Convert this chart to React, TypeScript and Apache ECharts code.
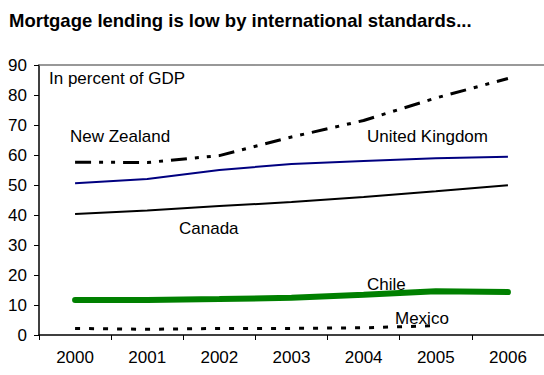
import React, { useEffect, useRef } from "react";
import * as echarts from "echarts";

const years = ["2000", "2001", "2002", "2003", "2004", "2005", "2006"];
const newZealand = [57.6, 57.5, 59.8, 66.0, 71.5, 79.0, 85.5];
const unitedKingdom = [50.6, 52.0, 55.0, 57.0, 58.0, 58.9, 59.4];
const canada = [40.3, 41.5, 43.0, 44.3, 46.0, 47.9, 49.9];
const chile = [11.7, 11.7, 12.0, 12.4, 13.4, 14.6, 14.3];
const mexico = [2.2, 1.9, 2.2, 2.2, 2.4, 3.1, null];
const yTicks = [0, 10, 20, 30, 40, 50, 60, 70, 80, 90];

const FONT = "'Liberation Sans', Arial, sans-serif";

export default function App() {
  const ref = useRef<HTMLDivElement>(null);
  useEffect(() => {
    if (!ref.current) return;
    const chart = echarts.init(ref.current, undefined, { renderer: "svg" });
    const labelText = (text: string, x: number, y: number) => ({
      type: "text",
      x,
      y,
      style: { text, font: `17px ${FONT}`, fill: "#000", textVerticalAlign: "middle" },
    });
    chart.setOption({
      animation: false,
      backgroundColor: "#fff",
      title: {
        text: "Mortgage lending is low by international standards...",
        left: 4,
        top: 6,
        textStyle: { fontFamily: FONT, fontWeight: "bold", fontSize: 18.5, color: "#000" },
      },
      grid: { left: 39, right: 0, top: 65, bottom: 40 },
      xAxis: [
        {
          type: "category",
          data: years,
          boundaryGap: true,
          axisLine: { lineStyle: { color: "#000", width: 1.5 } },
          axisTick: { show: true, length: 5, lineStyle: { color: "#000" } },
          axisLabel: { fontFamily: FONT, fontSize: 17, color: "#000", margin: 14 },
        },
        {
          type: "category",
          data: years,
          position: "top",
          axisLine: { lineStyle: { color: "#777", width: 1.5 } },
          axisTick: { show: false },
          axisLabel: { show: false },
        },
      ],
      yAxis: {
        type: "value",
        min: 0,
        max: 90,
        interval: 10,
        axisLine: { show: true, lineStyle: { color: "#000", width: 1.5 } },
        axisTick: { show: true, length: 5, lineStyle: { color: "#000" } },
        splitLine: { show: false },
        axisLabel: {
          fontFamily: FONT,
          fontSize: 17,
          color: "#000",
          margin: 12,
          formatter: (v: number) => (yTicks.includes(v) ? String(v) : ""),
        },
      },
      series: [
        {
          name: "New Zealand",
          type: "line",
          data: newZealand,
          showSymbol: false,
          lineStyle: { color: "#000", width: 3, type: [16, 8, 4, 8, 4, 8] },
        },
        {
          name: "United Kingdom",
          type: "line",
          data: unitedKingdom,
          showSymbol: false,
          lineStyle: { color: "#000080", width: 2 },
        },
        {
          name: "Canada",
          type: "line",
          data: canada,
          showSymbol: false,
          lineStyle: { color: "#000", width: 2 },
        },
        {
          name: "Chile",
          type: "line",
          data: chile,
          showSymbol: false,
          lineStyle: { color: "#008000", width: 6, cap: "round" },
        },
        {
          name: "Mexico",
          type: "line",
          data: mexico,
          showSymbol: false,
          lineStyle: { color: "#000", width: 3, type: [5, 9] },
        },
      ],
      graphic: [
        labelText("In percent of GDP", 49, 78),
        labelText("New Zealand", 70, 136),
        labelText("United Kingdom", 367, 136),
        labelText("Canada", 179, 228),
        labelText("Chile", 367, 284),
        labelText("Mexico", 395, 318),
      ],
    });
    return () => chart.dispose();
  }, []);
  return (
    <div
      ref={ref}
      style={{ position: "absolute", left: 0, top: 0, width: 544, height: 375 }}
    />
  );
}
